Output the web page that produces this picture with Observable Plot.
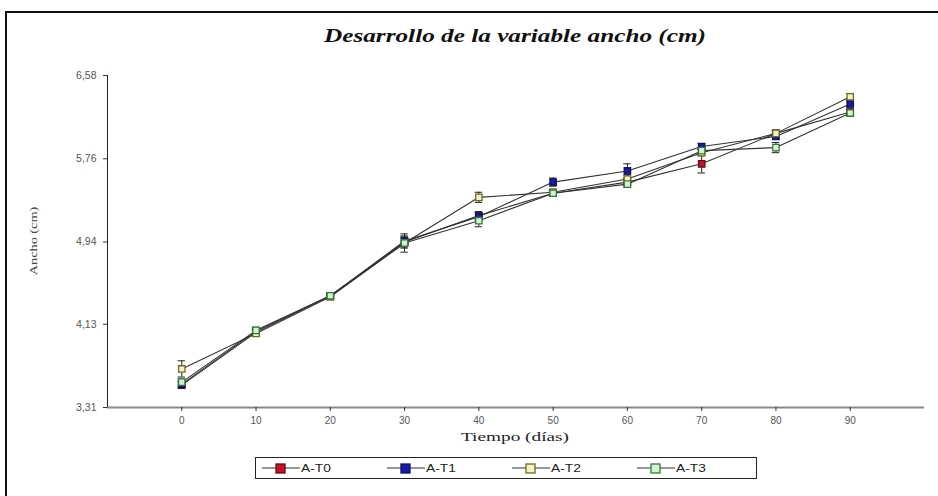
<!DOCTYPE html>
<html><head><meta charset="utf-8">
<script src="https://cdn.jsdelivr.net/npm/d3@7"></script>
<script src="https://cdn.jsdelivr.net/npm/@observablehq/plot@0.6"></script>
<style>
body{margin:0;background:#fff;width:938px;height:496px;overflow:hidden;position:relative;font-family:"Liberation Sans",Arial,sans-serif}
#frame{position:absolute;left:5px;top:11px;width:960px;height:520px;border:2px solid #111;box-sizing:border-box}
.fit{position:absolute;white-space:nowrap;display:inline-block;transform-origin:0 50%}
#title{top:25px;font-family:"Liberation Serif","DejaVu Serif",serif;font-style:italic;font-weight:bold;font-size:19px;color:#111}
#chart{position:absolute;left:0;top:0}
#xlabel{top:429px;font-family:"Liberation Serif","DejaVu Serif",serif;font-size:13px;color:#222}
#ylabel{position:absolute;left:33px;top:241px;transform:translate(-50%,-50%) rotate(-90deg) scaleX(1.3);font-family:"Liberation Serif",serif;font-size:11px;color:#444;white-space:nowrap}
#legend{position:absolute;left:255px;top:457px;width:502px;height:22px;border:1px solid #222;box-sizing:border-box;font-family:"Liberation Sans",Arial,sans-serif;font-size:11px;color:#222}
.item{display:flex;align-items:center;position:absolute;top:4px}
.item svg{margin-right:1px}
.item span{display:inline-block;transform:scaleX(1.25);transform-origin:0 50%}
</style></head>
<body>
<div id="frame"></div>
<div id="title" class="fit">Desarrollo de la variable ancho (cm)</div>
<div id="chart"></div>
<div id="xlabel" class="fit">Tiempo (días)</div>
<div id="ylabel">Ancho (cm)</div>
<div id="legend"></div>
<script>
const days = [0, 10, 20, 30, 40, 50, 60, 70, 80, 90];
const seriesNames = ["A-T0", "A-T1", "A-T2", "A-T3"];
const valT0 = [3.53, 4.05, 4.41, 4.94, 5.20, 5.42, 5.53, 5.71, 6.01, 6.22];
const valT1 = [3.54, 4.06, 4.41, 4.95, 5.19, 5.53, 5.64, 5.88, 5.98, 6.30];
const valT2 = [3.69, 4.04, 4.40, 4.93, 5.38, 5.43, 5.56, 5.82, 6.01, 6.37];
const valT3 = [3.56, 4.07, 4.41, 4.93, 5.15, 5.42, 5.51, 5.84, 5.87, 6.21];
const errT0 = [0.03, 0.03, 0.02, 0.05, 0.04, 0.03, 0.03, 0.09, 0.03, 0.03];
const errT1 = [0.03, 0.03, 0.02, 0.05, 0.04, 0.04, 0.07, 0.03, 0.03, 0.03];
const errT2 = [0.08, 0.03, 0.02, 0.05, 0.05, 0.03, 0.04, 0.03, 0.03, 0.03];
const errT3 = [0.03, 0.03, 0.02, 0.09, 0.06, 0.03, 0.03, 0.03, 0.05, 0.03];
const yTicks = [3.31, 4.13, 4.94, 5.76, 6.58];
const xTicks = [0, 10, 20, 30, 40, 50, 60, 70, 80, 90];
const fills = ["#c8102e", "#1a1aa8", "#f4f2c8", "#d8f0d8"];
const strokes = ["#5a1010", "#101060", "#6b6b20", "#2e7d32"];

const vals = [valT0, valT1, valT2, valT3];
const errs = [errT0, errT1, errT2, errT3];
const data = [];
seriesNames.forEach((s, i) => days.forEach((d, j) => data.push({series: s, day: d, v: vals[i][j], e: errs[i][j]})));

const fmt = d => d.toFixed(2).replace(".", ",");
const plot = Plot.plot({
  width: 938, height: 450,
  marginTop: 75, marginBottom: 43, marginLeft: 107, marginRight: 14,
  x: {domain: [-10, 100], ticks: xTicks, tickFormat: d => d, label: null},
  y: {domain: [3.31, 6.58], ticks: yTicks, tickFormat: fmt, label: null},
  color: {domain: seriesNames, range: fills},
  style: {fontFamily: "Liberation Sans, Arial, sans-serif", fontSize: "10px", color: "#555"},
  marks: [
    Plot.ruleY([3.31], {stroke: "#888", strokeWidth: 2}),
    Plot.ruleX([-10], {stroke: "#222", strokeWidth: 1}),
    Plot.axisY({ticks: yTicks, tickFormat: fmt, tickSize: 4, tickPadding: 7, stroke: "#333", label: null, fontSize: 10.5}),
    Plot.axisX({ticks: xTicks, tickSize: 4, tickPadding: 5, stroke: "#333", label: null}),
    Plot.line(data, {x: "day", y: "v", z: "series", stroke: "#333", strokeWidth: 1.1}),
    Plot.ruleX(data, {x: "day", y1: d => d.v - d.e, y2: d => d.v + d.e, stroke: "#222", strokeWidth: 1}),
    Plot.ruleY(data, {y: d => d.v - d.e, x1: d => d.day - 0.5, x2: d => d.day + 0.5, stroke: "#222", strokeWidth: 1}),
    Plot.ruleY(data, {y: d => d.v + d.e, x1: d => d.day - 0.5, x2: d => d.day + 0.5, stroke: "#222", strokeWidth: 1}),
    Plot.dot(data, {x: "day", y: "v", symbol: "square", r: 3.6, fill: "series",
      stroke: d => strokes[seriesNames.indexOf(d.series)], strokeWidth: 1.3})
  ]
});
document.getElementById("chart").appendChild(plot);

// stretch text labels horizontally to the reference's widths
function fit(id, left, width) {
  const el = document.getElementById(id);
  const w = el.getBoundingClientRect().width;
  el.style.left = left + "px";
  el.style.transform = `scaleX(${width / w})`;
}
fit("title", 324, 382);
fit("xlabel", 461, 108);

const leg = document.getElementById("legend");
const lefts = [6, 131, 256, 381];
seriesNames.forEach((s, i) => {
  const it = document.createElement("div");
  it.className = "item";
  it.style.left = lefts[i] + "px";
  it.innerHTML = `<svg width="38" height="12"><line x1="0" y1="6" x2="38" y2="6" stroke="#333" stroke-width="1.2"/><rect x="14" y="2" width="9" height="9" fill="${fills[i]}" stroke="${strokes[i]}" stroke-width="1.3"/></svg><span>${s}</span>`;
  leg.appendChild(it);
});
</script>
</body></html>
